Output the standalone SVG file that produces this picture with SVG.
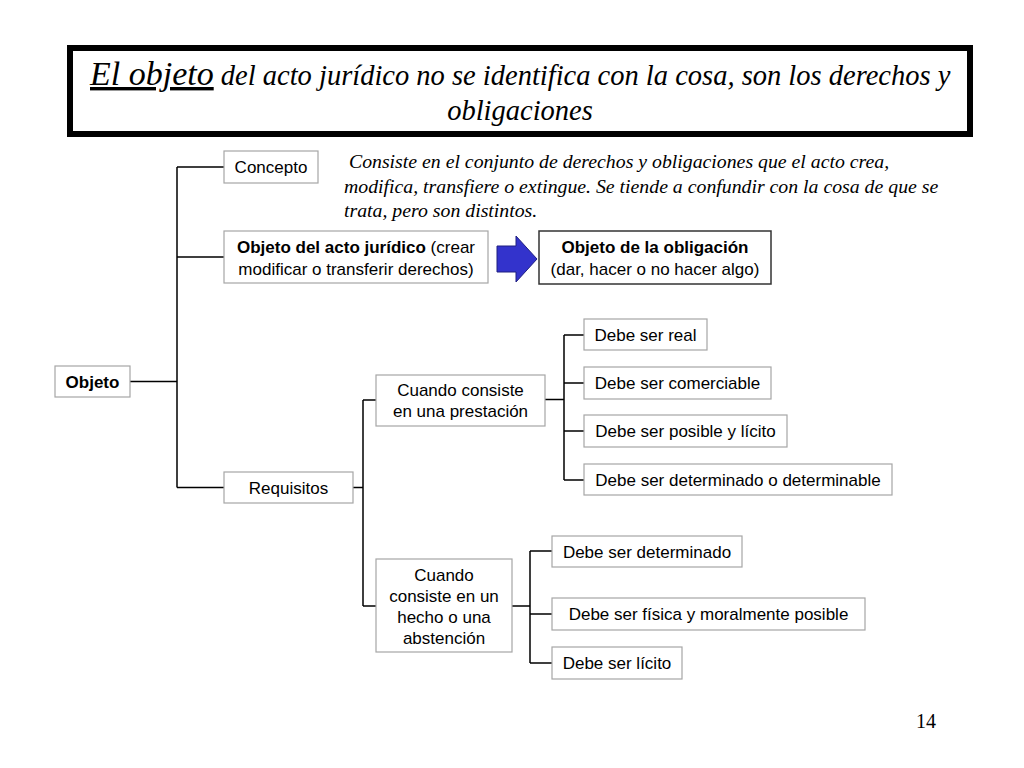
<svg xmlns="http://www.w3.org/2000/svg" width="1024" height="768" viewBox="0 0 1024 768">
<style>
.box{fill:#fff;stroke:#a6a6a6;stroke-width:1.2}
.dark{fill:#fff;stroke:#333;stroke-width:1.5}
.t{font-family:"Liberation Sans",Arial,sans-serif;font-size:17px;fill:#000;text-anchor:middle}
.b{font-weight:bold}
.c{fill:none;stroke:#000;stroke-width:1.5}
.serif{font-family:"Liberation Serif","Times New Roman",serif;font-style:italic;fill:#000}
</style>
<rect width="1024" height="768" fill="#fff"/>
<g id="title">
<rect x="70" y="48" width="900" height="86" fill="#fff" stroke="#000" stroke-width="6"/>
<text class="serif" x="90" y="85" font-size="28.5"><tspan font-size="34" text-decoration="underline">El objeto</tspan> del acto jurídico no se identifica con la cosa, son los derechos y</text>
<text class="serif" x="520" y="120" text-anchor="middle" font-size="28.5">obligaciones</text>
</g>
<g id="connectors">
<path class="c" d="M130 381.5H177M177 167V487.5M177 167H224M177 257H224M177 487.5H224"/>
<path class="c" d="M353 487.5H363M363 400V606M363 400H376M363 606H376"/>
<path class="c" d="M545 399.5H564M564 335V480M564 335H584M564 383H584M564 431H584M564 480H584"/>
<path class="c" d="M512 606H530M530 551V663M530 551H552M530 614H552M530 663H552"/>
</g>
<g id="n-objeto"><rect class="box" x="55" y="366" width="75" height="31"/><text class="t b" x="92.5" y="387.5">Objeto</text></g>
<g id="n-concepto"><rect class="box" x="224" y="151" width="94" height="32"/><text class="t" x="271" y="173">Concepto</text></g>
<g id="n-concepto-desc">
<text class="serif" font-size="19.8" x="344" y="168" xml:space="preserve"> Consiste en el conjunto de derechos y obligaciones que el acto crea,</text>
<text class="serif" font-size="19.8" x="344" y="193">modifica, transfiere o extingue. Se tiende a confundir con la cosa de que se</text>
<text class="serif" font-size="19.8" x="344" y="217">trata, pero son distintos.</text>
</g>
<g id="n-objeto-acto"><rect class="box" x="224" y="231" width="264" height="52"/><text class="t" x="356" y="253"><tspan class="b">Objeto del acto jurídico</tspan> (crear</text><text class="t" x="356" y="275">modificar o transferir derechos)</text></g>
<g id="n-arrow"><path d="M497 246H516V236L537 259L516 282V272H497Z" fill="#3333cc" stroke="#1f1f80" stroke-width="1"/></g>
<g id="n-objeto-oblig"><rect class="dark" x="539" y="231" width="232" height="53"/><text class="t b" x="655" y="253">Objeto de la obligación</text><text class="t" x="655" y="275">(dar, hacer o no hacer algo)</text></g>
<g id="n-requisitos"><rect class="box" x="224" y="472" width="129" height="31"/><text class="t" x="288.5" y="493.5">Requisitos</text></g>
<g id="n-prestacion"><rect class="box" x="376" y="375" width="169" height="51"/><text class="t" x="460.5" y="396">Cuando consiste</text><text class="t" x="460.5" y="417">en una prestación</text></g>
<g id="n-real"><rect class="box" x="584" y="319" width="123" height="31"/><text class="t" x="645.5" y="340.5">Debe ser real</text></g>
<g id="n-comerciable"><rect class="box" x="584" y="367" width="187" height="32"/><text class="t" x="677.5" y="389">Debe ser comerciable</text></g>
<g id="n-posible"><rect class="box" x="584" y="415" width="203" height="32"/><text class="t" x="685.5" y="437">Debe ser posible y lícito</text></g>
<g id="n-determinable"><rect class="box" x="584" y="464" width="308" height="31"/><text class="t" x="738" y="485.5">Debe ser determinado o determinable</text></g>
<g id="n-hecho"><rect class="box" x="376" y="559" width="136" height="93"/><text class="t" x="444" y="581">Cuando</text><text class="t" x="444" y="602">consiste en un</text><text class="t" x="444" y="623">hecho o una</text><text class="t" x="444" y="644">abstención</text></g>
<g id="n-determinado"><rect class="box" x="552" y="536" width="190" height="31"/><text class="t" x="647" y="557.5">Debe ser determinado</text></g>
<g id="n-fisica"><rect class="box" x="552" y="598" width="313" height="32"/><text class="t" x="708.5" y="620">Debe ser física y moralmente posible</text></g>
<g id="n-licito"><rect class="box" x="552" y="647" width="130" height="32"/><text class="t" x="617" y="669">Debe ser lícito</text></g>
<text font-family="'Liberation Serif','Times New Roman',serif" font-size="20" x="926" y="728" text-anchor="middle">14</text>
</svg>
